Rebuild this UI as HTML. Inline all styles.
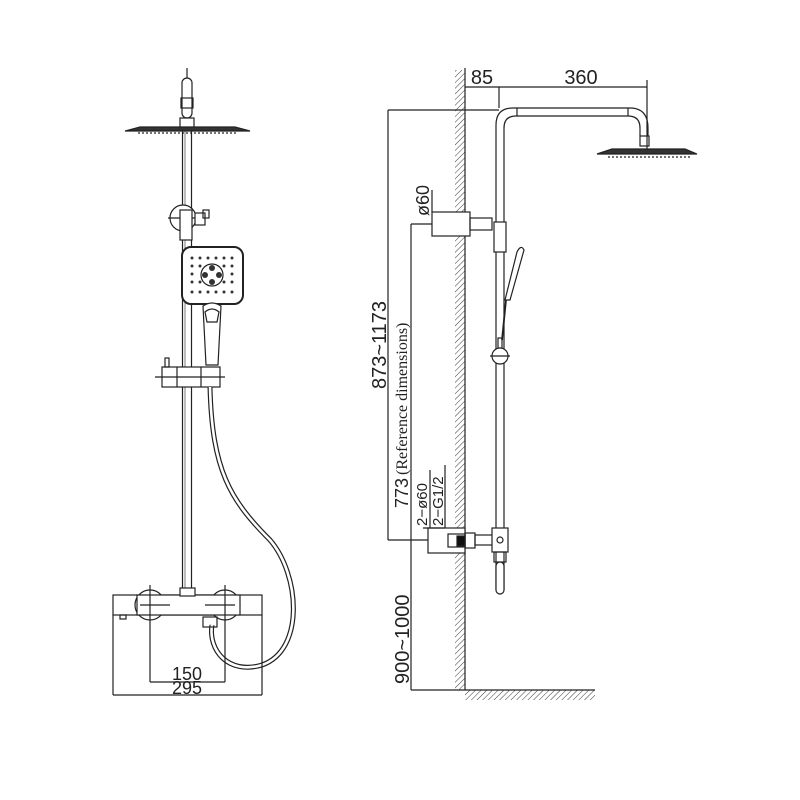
<!DOCTYPE html>
<html><head><meta charset="utf-8"><style>html,body{margin:0;padding:0;background:#fff}svg{display:block}</style></head>
<body>
<svg width="800" height="800" viewBox="0 0 800 800" xmlns="http://www.w3.org/2000/svg">
<defs>
<pattern id="h" width="4" height="4" patternUnits="userSpaceOnUse" patternTransform="rotate(45)">
<line x1="0" y1="0" x2="0" y2="4" stroke="#222" stroke-width="0.9"/></pattern>
</defs>
<g fill="none" stroke="#222" stroke-width="1.2">
<rect x="182.5" y="128" width="9" height="465" fill="#fff"/>
<line x1="185" y1="130" x2="185" y2="590" stroke-width="0.6"/>
<rect x="182" y="78" width="10" height="40" rx="5" fill="#fff"/>
<rect x="181" y="98" width="12" height="10"/>
<rect x="180" y="118" width="14" height="10"/>
<line x1="187" y1="68" x2="187" y2="78"/>
<path d="M125 131 L140 127 L235 127 L250 131 Z" fill="#333"/>
<line x1="138" y1="133" x2="237" y2="133" stroke-dasharray="2 2"/>
<circle cx="183" cy="218" r="13" fill="#fff"/>
<line x1="168" y1="218" x2="200" y2="218"/>
<rect x="180" y="210" width="12" height="30" fill="#fff"/>
<rect x="195" y="213" width="10" height="12" fill="#fff"/>
<rect x="203" y="210" width="6" height="8"/>
<rect x="182" y="247" width="61" height="57" rx="9" fill="#fff" stroke-width="2"/>
<g fill="#333" stroke="none">
<circle cx="192" cy="258" r="1.5"/><circle cx="200" cy="258" r="1.5"/><circle cx="208" cy="258" r="1.5"/><circle cx="216" cy="258" r="1.5"/><circle cx="224" cy="258" r="1.5"/><circle cx="232" cy="258" r="1.5"/>
<circle cx="192" cy="266" r="1.5"/><circle cx="200" cy="266" r="1.5"/><circle cx="224" cy="266" r="1.5"/><circle cx="232" cy="266" r="1.5"/>
<circle cx="192" cy="282" r="1.5"/><circle cx="200" cy="282" r="1.5"/><circle cx="224" cy="282" r="1.5"/><circle cx="232" cy="282" r="1.5"/>
<circle cx="192" cy="292" r="1.5"/><circle cx="200" cy="292" r="1.5"/><circle cx="208" cy="292" r="1.5"/><circle cx="216" cy="292" r="1.5"/><circle cx="224" cy="292" r="1.5"/><circle cx="232" cy="292" r="1.5"/>
<circle cx="192" cy="274" r="1.5"/><circle cx="232" cy="274" r="1.5"/>
<circle cx="212" cy="268" r="3"/><circle cx="212" cy="282" r="3"/><circle cx="205" cy="275" r="3"/><circle cx="219" cy="275" r="3"/>
</g>
<circle cx="212" cy="275" r="11"/>
<path d="M203 306 Q212 300 221 306 L218 365 L206 365 Z" fill="#fff"/>
<path d="M205 312 Q212 306 219 312 L217 322 L207 322 Z"/>
<rect x="162" y="367" width="58" height="20" fill="#fff"/>
<line x1="177" y1="367" x2="177" y2="387"/><line x1="201" y1="367" x2="201" y2="387"/>
<rect x="165" y="358" width="4" height="9"/>
<line x1="155" y1="377" x2="225" y2="377"/>
<path d="M210 387 C212 470 230 500 270 540 C300 575 305 650 262 665 C228 675 208 650 212 625" stroke-width="5"/>
<path d="M210 387 C212 470 230 500 270 540 C300 575 305 650 262 665 C228 675 208 650 212 625" stroke="#fff" stroke-width="2.6"/>
<rect x="113" y="595" width="149" height="20" fill="#fff"/>
<circle cx="150" cy="605" r="15" fill="#fff"/>
<circle cx="225" cy="605" r="15" fill="#fff"/>
<rect x="137" y="595" width="103" height="20" fill="#fff"/>
<rect x="180" y="588" width="15" height="8" fill="#fff"/>
<line x1="150" y1="585" x2="150" y2="682"/><line x1="225" y1="585" x2="225" y2="682"/>
<line x1="140" y1="605" x2="170" y2="605"/><line x1="205" y1="605" x2="235" y2="605"/>
<rect x="203" y="617" width="14" height="10"/>
<rect x="120" y="615" width="6" height="4"/>
<line x1="113" y1="615" x2="113" y2="695"/><line x1="262" y1="615" x2="262" y2="695"/>
<line x1="150" y1="682" x2="225" y2="682"/>
<line x1="113" y1="695" x2="262" y2="695"/>
<rect x="455" y="70" width="10" height="620" fill="url(#h)" stroke="none"/>
<line x1="465" y1="68" x2="465" y2="690"/>
<rect x="465" y="690" width="130" height="10" fill="url(#h)" stroke="none"/>
<line x1="465" y1="690" x2="595" y2="690"/>
<path d="M496 590 L496 125 Q496 108 513 108 L630 108 Q648 108 648 128 L648 136"/>
<path d="M504 590 L504 128 Q504 116 516 116 L628 116 Q640 116 640 128 L640 136"/>
<line x1="517" y1="108" x2="517" y2="116"/><line x1="628" y1="108" x2="628" y2="116"/>
<rect x="640" y="136" width="9" height="10"/>
<path d="M597 154 L612 149 L685 149 L697 154 Z" fill="#333"/>
<line x1="608" y1="157" x2="690" y2="157" stroke-dasharray="2 2"/>
<line x1="465" y1="87" x2="647" y2="87"/>
<line x1="499" y1="87" x2="499" y2="108"/>
<line x1="647" y1="80" x2="647" y2="150"/>
<line x1="388" y1="110" x2="499" y2="110"/>
<line x1="388" y1="110" x2="388" y2="540"/>
<rect x="432" y="212" width="38" height="24" fill="#fff"/>
<line x1="432" y1="190" x2="432" y2="212"/>
<rect x="470" y="218" width="22" height="12"/>
<rect x="494" y="222" width="12" height="30" fill="#fff"/>
<line x1="411" y1="224" x2="432" y2="224"/>
<line x1="411" y1="224" x2="411" y2="690"/>
<line x1="411" y1="690" x2="465" y2="690"/>
<path d="M505 300 L517 252 Q521 244 524 250 L510 300 Z" fill="#fff"/>
<line x1="506" y1="300" x2="502" y2="340" stroke-width="1.8"/>
<rect x="498" y="338" width="4" height="10"/>
<circle cx="500" cy="356" r="8" fill="#fff"/>
<line x1="490" y1="356" x2="510" y2="356"/>
<rect x="428" y="528" width="37" height="25" fill="#fff"/>
<rect x="448" y="534" width="17" height="13"/>
<rect x="457" y="536" width="8" height="10" fill="#111"/>
<rect x="465" y="533" width="10" height="15"/>
<rect x="475" y="535" width="18" height="10"/>
<rect x="492" y="528" width="16" height="24" fill="#fff"/>
<circle cx="500" cy="540" r="3"/>
<rect x="494" y="552" width="12" height="10"/>
<rect x="496" y="562" width="8" height="32" rx="4" fill="#fff"/>
<line x1="388" y1="540" x2="428" y2="540"/>
<line x1="423" y1="528" x2="445" y2="528"/>
<line x1="430" y1="470" x2="430" y2="528"/>
<line x1="445" y1="465" x2="445" y2="528"/>
</g>
<g font-family="Liberation Sans, sans-serif" fill="#222">
<text x="187" y="680" font-size="18" text-anchor="middle">150</text>
<text x="187" y="694" font-size="18" text-anchor="middle">295</text>
<text x="482" y="84" font-size="20" text-anchor="middle">85</text>
<text x="581" y="84" font-size="20" text-anchor="middle">360</text>
<text transform="translate(386,345) rotate(-90)" font-size="20" text-anchor="middle">873~1173</text>
<text transform="translate(408,508) rotate(-90)" font-size="18">773</text>
<text transform="translate(407,475) rotate(-90)" font-size="16" font-family="Liberation Serif, serif">(Reference dimensions)</text>
<text transform="translate(429,216) rotate(-90)" font-size="18">ø60</text>
<text transform="translate(427,526) rotate(-90)" font-size="15">2−ø60</text>
<text transform="translate(443,526) rotate(-90)" font-size="15">2−G1/2</text>
<text transform="translate(409,684) rotate(-90)" font-size="20">900~1000</text>
</g>
</svg>
</body></html>
